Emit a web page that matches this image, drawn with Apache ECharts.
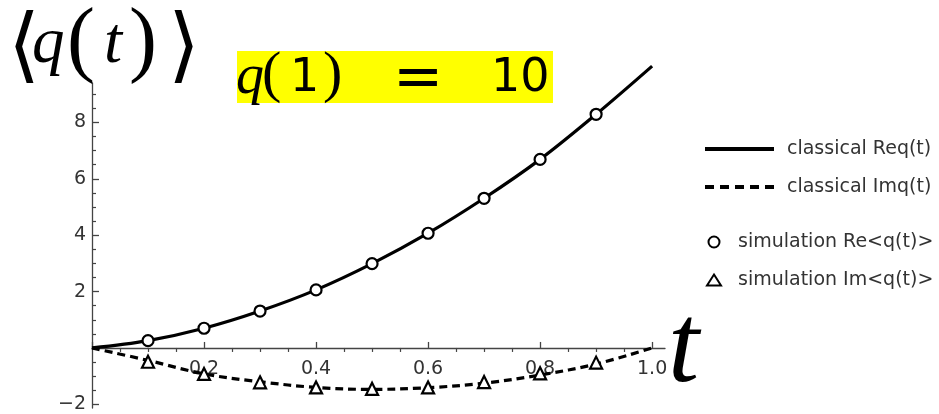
<!DOCTYPE html>
<html>
<head>
<meta charset="utf-8">
<script src="https://cdn.jsdelivr.net/npm/echarts@6/dist/echarts.min.js"></script>
<style>
  html, body { margin: 0; padding: 0; background: #fff; }
  #main { width: 939px; height: 414px; }
</style>
</head>
<body>
<div id="main"></div>
<script>
// classical solution
const tLine = [0, 0.1, 0.2, 0.3, 0.4, 0.5, 0.6, 0.7, 0.8, 0.9, 1.0];
const classicalRe = [0, 0.26, 0.70, 1.31, 2.06, 2.99, 4.07, 5.31, 6.69, 8.29, 10.0];
const classicalIm = [0, -0.44, -0.92, -1.20, -1.40, -1.47, -1.41, -1.25, -0.96, -0.57, 0];

// simulation points
const tSim = [0.1, 0.2, 0.3, 0.4, 0.5, 0.6, 0.7, 0.8, 0.9];
const simRe = [0.26, 0.70, 1.31, 2.06, 2.99, 4.07, 5.31, 6.69, 8.29];
const simIm = [-0.49, -0.92, -1.22, -1.40, -1.45, -1.40, -1.21, -0.90, -0.52];

// ticks
const xLabels = [0.2, 0.4, 0.6, 0.8, 1.0];
const xMajor = [0, 0.2, 0.4, 0.6, 0.8, 1.0];
const xMinor = [0.05, 0.1, 0.15, 0.25, 0.3, 0.35, 0.45, 0.5, 0.55, 0.65, 0.7, 0.75, 0.85, 0.9, 0.95];
const yLabels = [-2, 2, 4, 6, 8];
const yMajor = [-2, 0, 2, 4, 6, 8];
const yMinor = [-1.5, -1, -0.5, 0.5, 1, 1.5, 2.5, 3, 3.5, 4.5, 5, 5.5, 6.5, 7, 7.5, 8.5, 9];

const names = ['classical Req(t)', 'classical Imq(t)', 'simulation Re<q(t)>', 'simulation Im<q(t)>'];

const pair = (xs, ys) => xs.map((x, i) => [x, ys[i]]);

const axisColor = '#444';
const labelFont = { fontFamily: 'DejaVu Sans', fontSize: 19, color: '#333' };
const legendText = { fontFamily: 'DejaVu Sans', fontSize: 19, color: '#333', lineHeight: 20, padding: [0, 0, 0, 8] };
const noSymbol = { color: 'rgba(0,0,0,0)', borderColor: 'rgba(0,0,0,0)', borderWidth: 0 };

// helper for the math-like text pieces
const mathText = (text, x, y, size, family, italic) => ({
  type: 'text',
  x: x,
  y: y,
  z: 11,
  style: {
    text: text,
    fontFamily: family,
    fontStyle: italic ? 'italic' : 'normal',
    fontSize: size,
    fill: '#000',
    align: 'left',
    verticalAlign: 'middle',
  },
});

const chart = echarts.init(document.getElementById('main'));

const option = {
  animation: false,
  backgroundColor: '#fff',
  grid: [
    { left: 92, right: 274, top: 83, bottom: 6, containLabel: false, outerBoundsMode: 'none' },
    // only used to put the t labels under the zero line
    { left: 92, right: 274, top: 83, height: 265, containLabel: false, outerBoundsMode: 'none' },
  ],
  xAxis: [{
    type: 'value',
    min: 0,
    max: 1.023,
    splitLine: { show: false },
    axisLine: { onZero: true, lineStyle: { color: axisColor, width: 1.3 } },
    axisTick: { inside: true, length: 6, customValues: xMajor, lineStyle: { color: axisColor, width: 1.3 } },
    axisLabel: { show: false },
  }, {
    type: 'value',
    min: 0,
    max: 1.023,
    splitLine: { show: false },
    axisLine: { show: false, onZero: true },
    axisTick: { inside: true, length: 4, customValues: xMinor, lineStyle: { color: axisColor, width: 1.2 } },
    axisLabel: { show: false },
  }, {
    type: 'value',
    gridIndex: 1,
    min: 0,
    max: 1.023,
    splitLine: { show: false },
    axisLine: { show: false, onZero: false },
    axisTick: { show: false },
    axisLabel: {
      customValues: xLabels,
      margin: 12,
      formatter: (v) => v.toFixed(1),
      ...labelFont,
    },
  }],
  yAxis: [{
    type: 'value',
    min: -2.13,
    max: 9.4,
    splitLine: { show: false },
    axisLine: { onZero: false, lineStyle: { color: axisColor, width: 1.3 } },
    axisTick: { inside: true, length: 7, customValues: yMajor, lineStyle: { color: axisColor, width: 1.3 } },
    axisLabel: {
      customValues: yLabels,
      margin: 6,
      formatter: (v) => (v < 0 ? '\u2212' + Math.abs(v) : String(v)),
      ...labelFont,
    },
  }, {
    type: 'value',
    min: -2.13,
    max: 9.4,
    position: 'left',
    splitLine: { show: false },
    axisLine: { show: false, onZero: false },
    axisTick: { inside: true, length: 4, customValues: yMinor, lineStyle: { color: axisColor, width: 1.2 } },
    axisLabel: { show: false },
  }, {
    type: 'value',
    gridIndex: 1,
    show: false,
  }],
  legend: [{
    orient: 'vertical',
    left: 703,
    top: 139,
    padding: 0,
    itemWidth: 69,
    itemHeight: 14,
    itemGap: 18,
    data: [
      { name: names[0], lineStyle: { width: 4, color: '#000' }, itemStyle: noSymbol },
      { name: names[1], lineStyle: { width: 4, color: '#000', type: [9, 6] }, itemStyle: noSymbol },
    ],
    textStyle: legendText,
  }, {
    orient: 'vertical',
    left: 706,
    top: 232,
    padding: 0,
    itemWidth: 14,
    itemHeight: 11,
    itemGap: 18,
    data: [names[2], names[3]],
    textStyle: { ...legendText, padding: [0, 0, 0, 12] },
  }],
  series: [{
    name: names[0],
    type: 'line',
    data: pair(tLine, classicalRe),
    smooth: 0.35,
    symbol: 'none',
    clip: false,
    lineStyle: { color: '#000', width: 3.2 },
    itemStyle: { color: '#000' },
    z: 2,
  }, {
    name: names[1],
    type: 'line',
    data: pair(tLine, classicalIm),
    smooth: 0.35,
    symbol: 'none',
    clip: false,
    lineStyle: { color: '#000', width: 3.2, type: [8, 5] },
    itemStyle: { color: '#000' },
    z: 2,
  }, {
    name: names[2],
    type: 'scatter',
    data: pair(tSim, simRe),
    symbol: 'circle',
    symbolSize: 11,
    itemStyle: { color: '#fff', borderColor: '#000', borderWidth: 2.2, opacity: 1 },
    z: 3,
  }, {
    name: names[3],
    type: 'scatter',
    data: pair(tSim, simIm),
    symbol: 'triangle',
    symbolSize: 12,
    itemStyle: { color: '#fff', borderColor: '#000', borderWidth: 2.2, opacity: 1 },
    z: 3,
  }],
  graphic: [
    // <q(t)>
    mathText('\u27E8', 8, 51, 82, 'DejaVu Serif', false),
    mathText('q', 32, 45, 65, 'Liberation Serif', true),
    mathText('(', 67, 44, 84, 'Liberation Serif', false),
    mathText('t', 104, 45, 65, 'Liberation Serif', true),
    mathText(')', 129, 44, 84, 'Liberation Serif', false),
    mathText('\u27E9', 168, 51, 82, 'DejaVu Serif', false),
    // yellow box
    {
      type: 'rect',
      shape: { x: 237, y: 51, width: 316, height: 52 },
      style: { fill: '#ffff00' },
      z: 10,
    },
    mathText('q', 236, 78, 56, 'Liberation Serif', true),
    mathText('(', 262, 76, 58, 'Liberation Serif', false),
    mathText('1', 290, 79, 46, 'DejaVu Sans', false),
    mathText(')', 323, 76, 58, 'Liberation Serif', false),
    mathText('=', 393, 80, 60, 'DejaVu Sans', false),
    mathText('10', 491, 79, 46, 'DejaVu Sans', false),
    // axis name t
    mathText('t', 668, 352, 112, 'Liberation Serif', true),
  ],
};

chart.setOption(option);
</script>
</body>
</html>
